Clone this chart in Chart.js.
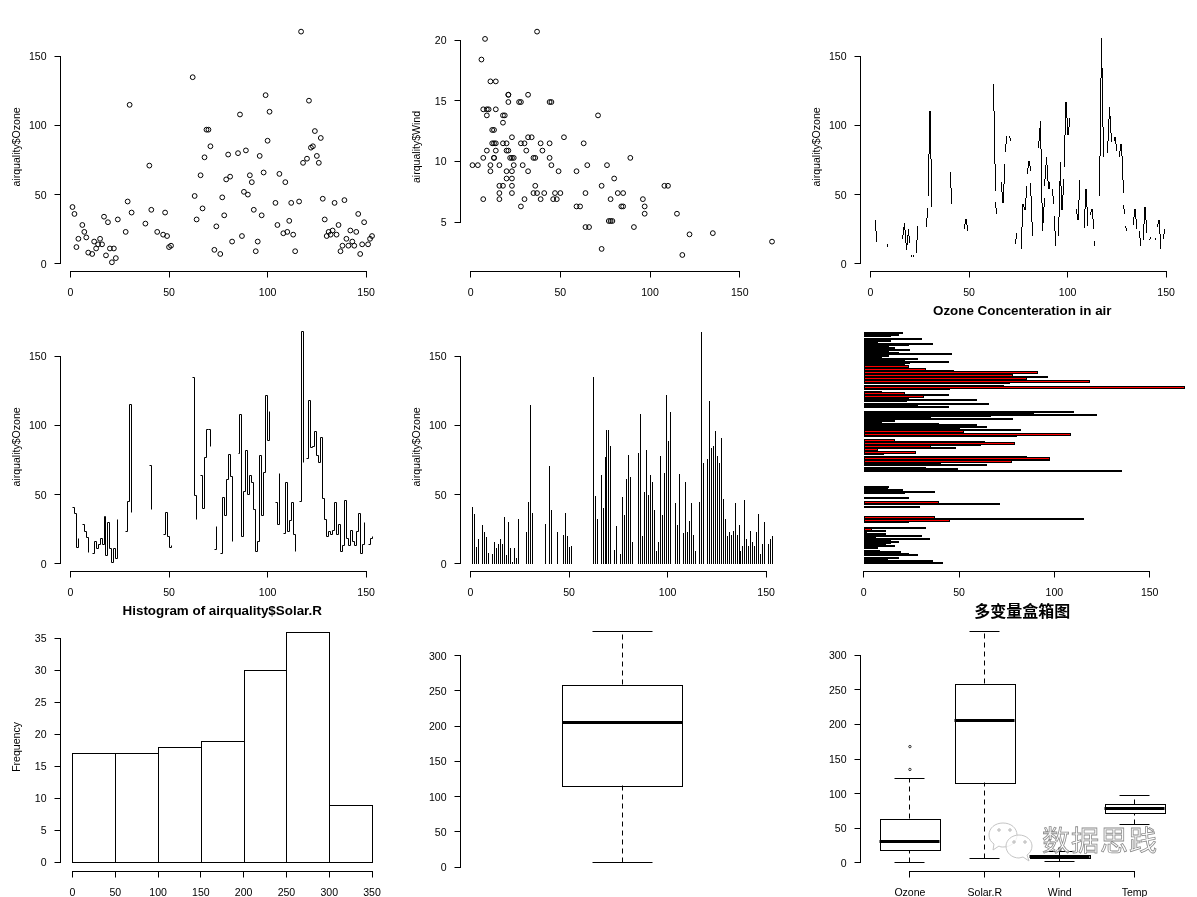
<!DOCTYPE html>
<html>
<head>
<meta charset="utf-8">
<title>airquality</title>
<script src="https://cdn.jsdelivr.net/npm/chart.js@4/dist/chart.umd.js"></script>
<style>
  html, body { margin: 0; padding: 0; background: #fff; overflow: hidden; }
  #page { position: relative; width: 1197px; height: 897px; overflow: hidden; }
  canvas { position: absolute; }
  #mark { position: absolute; left: 980px; top: 815px; }
</style>
</head>
<body>
<div id="page">
  <canvas id="c0"></canvas><canvas id="c1"></canvas><canvas id="c2"></canvas>
  <canvas id="c3"></canvas><canvas id="c4"></canvas><canvas id="c5"></canvas>
  <canvas id="c6"></canvas><canvas id="c7"></canvas><canvas id="c8"></canvas>
  <svg id="mark" width="190" height="55" viewBox="0 0 190 55">
    <g fill="rgba(255,255,255,0.75)" stroke="#c4c4c4" stroke-width="1">
      <path d="M23 8c8 0 14 5 14 12s-6 12-14 12c-1 0-3 0-4-1l-6 4 1-6c-3-2-5-5-5-9 0-7 6-12 14-12z"/>
      <path d="M39 20c7 0 13 5 13 11 0 4-2 7-5 9l2 6-6-4c-1 0-3 1-4 1-7 0-13-5-13-12 0-6 6-11 13-11z"/>
    </g>
    <g fill="none" stroke="#b0b0b0" stroke-width="1">
      <circle cx="19" cy="15" r="1.2"/><circle cx="30" cy="15" r="1.2"/>
      <circle cx="34" cy="27" r="1.2"/><circle cx="45" cy="27" r="1.2"/>
    </g>
    <text x="62" y="36" textLength="115" font-family="Noto Sans CJK SC" font-size="28"
          fill="rgba(255,255,255,0.72)" stroke="#8c8c8c" stroke-width="0.8">数据思践</text>
  </svg>
</div>
<script>
// airquality columns, NA is null
const ozone = [41,36,12,18,null,28,23,19,8,null,7,16,11,14,18,14,34,6,30,11,1,11,4,32,null,null,null,23,45,115,37,
  null,null,null,null,null,null,29,null,71,39,null,null,23,null,null,21,37,20,12,13,null,null,null,null,null,null,null,null,null,null,
  135,49,32,null,64,40,77,97,97,85,null,10,27,null,7,48,35,61,79,63,16,null,null,80,108,20,52,82,50,64,59,39,9,16,78,35,66,122,89,110,
  null,null,44,28,65,null,22,59,23,31,44,21,9,null,45,168,73,null,76,118,84,85,96,78,73,91,47,32,20,23,21,24,44,21,28,9,13,46,18,13,24,16,13,23,36,7,14,30,null,14,18,20];
const wind = [7.4,8,12.6,11.5,14.3,14.9,8.6,13.8,20.1,8.6,6.9,9.7,9.2,10.9,13.2,11.5,12,18.4,11.5,9.7,9.7,16.6,9.7,12,16.6,14.9,8,12,14.9,5.7,7.4,
  8.6,9.7,16.1,9.2,8.6,14.3,9.7,6.9,13.8,11.5,10.9,9.2,8,13.8,11.5,14.9,20.7,9.2,11.5,10.3,6.3,1.7,4.6,6.3,8,8,10.3,11.5,14.9,8,
  4.1,9.2,9.2,10.9,4.6,10.9,5.1,6.3,5.7,7.4,8.6,14.3,14.9,14.9,14.3,6.9,10.3,6.3,5.1,11.5,6.9,9.7,11.5,8.6,8,8.6,12,7.4,7.4,7.4,9.2,6.9,13.8,7.4,6.9,7.4,4.6,4,10.3,8,
  8.6,11.5,11.5,11.5,9.7,11.5,10.3,6.3,7.4,10.9,10.3,15.5,14.3,12.6,9.7,3.4,8,5.7,9.7,2.3,6.3,6.3,6.9,5.1,2.8,4.6,7.4,15.5,10.9,10.3,10.9,9.7,14.9,15.5,6.3,10.9,11.5,6.9,13.8,10.3,10.3,8,12.6,9.2,10.3,10.3,16.6,6.9,13.2,14.3,8,11.5];

const histCounts = [17,17,18,19,30,36,9];
const histMids = [25,75,125,175,225,275,325];
const histTicks = [0,50,100,150,200,250,300,350];
const freqTicks = [0,5,10,15,20,25,30,35];

const indexTicks = [0,50,100,150];
const ozoneTicks = [0,50,100,150];
const windTicks = [5,10,15,20];
const boxTicks = [0,50,100,150,200,250,300];

const boxNames = ['Ozone','Solar.R','Wind','Temp'];
const boxLow = [1,7,1.7,56];
const boxQ1 = [18,115.5,7.4,72];
const boxMedian = [31.5,205,9.7,79];
const boxQ3 = [63.5,258.5,11.5,85];
const boxHigh = [122,334,16.6,97];
const boxOutliers = [[135,168],[],[20.1,18.4,20.7],[]];

const LABEL_FONT = {family:'"Liberation Sans", Arial, sans-serif', size:10.56};
const AREA_LEFT = 60.5, AREA_RIGHT = 384, AREA_TOP = 22.4, AREA_BOTTOM = 271.5;
const CELL_W = 397, CELL_H = 297;
const TITLE_MID = 11;

// R style 4% padding of an axis range
function usr(lo, hi) {
  const d = (hi - lo) * 0.04;
  return {min: lo - d, max: hi + d};
}

function xyRows(xs, ys) {
  return ys.map((y, i) => ({x: xs ? xs[i] : i + 1, y: y}));
}

function axis(range, tickValues, opts) {
  opts = opts || {};
  const horizontal = opts.pos === 'x';
  const s = {
    type: 'linear',
    min: range.min,
    max: range.max,
    offset: false,
    display: opts.hidden ? false : true,
    border: {display: false},
    grid: {drawOnChartArea: false, tickLength: 6, color: '#000', lineWidth: 1, offset: false},
    ticks: {
      color: '#000', font: LABEL_FONT, autoSkip: false, maxRotation: 0, minRotation: 0,
      padding: horizontal ? 9 : 8,
      labelOffset: horizontal ? 0 : 1,
      callback: opts.names ? (v => opts.names[v - 1]) : (v => v)
    },
    afterBuildTicks: sc => { sc.ticks = tickValues.map(v => ({value: v})); },
    afterFit: sc => {
      // hidden scales get here too, so they still reserve the margin
      if (horizontal) sc.height = CELL_H - AREA_BOTTOM;
      else sc.width = AREA_LEFT;
    }
  };
  if (opts.title) {
    s.title = {display: true, text: opts.title, color: '#000', font: LABEL_FONT, padding: {top: 11, bottom: 0}};
  }
  return s;
}

// the reference comes from an aliased device, so bars are snapped to whole pixels
const crispBars = {
  id: 'crispBars',
  beforeDatasetDraw(chart, args) {
    if (args.meta.type !== 'bar') return;
    const ctx = chart.ctx;
    const horizontal = chart.options.indexAxis === 'y';
    ctx.save();
    args.meta.data.forEach(el => {
      const p = el.getProps(['x','y','base','width','height'], true);
      let l, r, t, b;
      if (horizontal) {
        l = Math.round(p.base); r = Math.round(p.x);
        t = Math.round(p.y - p.height / 2); b = Math.round(p.y + p.height / 2);
      } else {
        l = Math.round(p.x - p.width / 2); r = Math.round(p.x + p.width / 2);
        t = Math.round(Math.min(p.y, p.base)); b = Math.round(Math.max(p.y, p.base));
      }
      ctx.fillStyle = el.options.backgroundColor;
      ctx.fillRect(l, t, r - l + 1, b - t + 1);
      ctx.fillStyle = '#000';
      ctx.fillRect(l, t, r - l + 1, 1);
      ctx.fillRect(l, b, r - l + 1, 1);
      ctx.fillRect(l, t, 1, b - t + 1);
      ctx.fillRect(r, t, 1, b - t + 1);
    });
    ctx.restore();
    return false;
  }
};

// snap line vertices too, keeps stairs and box parts sharp
const crispLines = {
  id: 'crispLines',
  afterDatasetsUpdate(chart) {
    chart.getSortedVisibleDatasetMetas().forEach(meta => {
      if (!meta.dataset || !chart.data.datasets[meta.index].crisp) return;
      meta.data.forEach(el => {
        el.x = Math.round(el.x - 0.5) + 0.5;
        el.y = Math.round(el.y - 0.5) + 0.5;
      });
    });
  }
};

// type="c" of R: segments stop short of the points, short ones vanish
const gappedLine = {
  id: 'gappedLine',
  beforeDatasetDraw(chart, args) {
    const gap = chart.data.datasets[args.index].gap;
    if (!gap) return;
    const ctx = chart.ctx;
    const pts = args.meta.data;
    ctx.save();
    ctx.fillStyle = '#000';
    for (let i = 0; i < pts.length - 1; i++) {
      const a = pts[i], b = pts[i + 1];
      if (a.skip || b.skip) continue;
      const d = Math.hypot(b.x - a.x, b.y - a.y);
      if (d <= 2 * gap) continue;
      const ux = (b.x - a.x) / d, uy = (b.y - a.y) / d;
      plotPixels(ctx, a.x + ux * gap, a.y + uy * gap, b.x - ux * gap, b.y - uy * gap);
    }
    ctx.restore();
    return false;
  }
};

function plotPixels(ctx, x0, y0, x1, y1) {
  x0 = Math.round(x0); y0 = Math.round(y0); x1 = Math.round(x1); y1 = Math.round(y1);
  const steps = Math.max(Math.abs(x1 - x0), Math.abs(y1 - y0));
  for (let k = 0; k <= steps; k++) {
    const t = steps ? k / steps : 0;
    ctx.fillRect(Math.round(x0 + (x1 - x0) * t), Math.round(y0 + (y1 - y0) * t), 1, 1);
  }
}

// axis line only runs from first to last tick
const tickRangeAxes = {
  id: 'tickRangeAxes',
  afterDraw(chart) {
    const ctx = chart.ctx;
    ctx.save();
    ctx.fillStyle = '#000';
    Object.values(chart.scales).forEach(s => {
      if (!s.options.display || !s.ticks.length) return;
      const a = Math.round(s.getPixelForValue(s.ticks[0].value) - 0.5);
      const b = Math.round(s.getPixelForValue(s.ticks[s.ticks.length - 1].value) - 0.5);
      if (s.isHorizontal()) ctx.fillRect(a, Math.round(s.top - 0.5), b - a + 1, 1);
      else ctx.fillRect(Math.round(s.right - 0.5), b, 1, a - b + 1);
    });
    ctx.restore();
  }
};

function makeChart(idx, cfg) {
  const col = idx % 3, row = Math.floor(idx / 3);
  const canvas = document.getElementById('c' + idx);
  canvas.width = CELL_W; canvas.height = CELL_H;
  canvas.style.left = (col * 400) + 'px';
  canvas.style.top = (row * 300) + 'px';
  const title = cfg.title;
  const titleSize = cfg.titleSize || 13.4;
  const titleTop = TITLE_MID - titleSize * 0.6;
  const padding = {
    left: 0,
    right: CELL_W - AREA_RIGHT,
    top: title ? titleTop : AREA_TOP,
    bottom: 0
  };
  return new Chart(canvas, {
    type: cfg.type,
    data: {datasets: cfg.datasets},
    plugins: [crispBars, crispLines, gappedLine, tickRangeAxes],
    options: {
      responsive: false,
      animation: false,
      events: [],
      indexAxis: cfg.indexAxis || 'x',
      layout: {padding: padding},
      scales: cfg.scales,
      plugins: {
        legend: {display: false},
        tooltip: {enabled: false},
        title: title ? {
          display: true, text: title, color: '#000', fullSize: false,
          font: {family: cfg.titleFamily || LABEL_FONT.family, size: titleSize, weight: 'bold', lineHeight: 1.2},
          padding: {top: 0, bottom: AREA_TOP - titleTop - titleSize * 1.2}
        } : {display: false}
      }
    }
  });
}

// box parts as datasets: floating bar for the box, lines for the rest
function boxDatasets(from, count, halfBox) {
  const whiskers = [], caps = [], medians = [], outliers = [], boxes = [];
  for (let n = 0; n < count; n++) {
    const i = from + n, x = n + 1;
    whiskers.push({x: x, y: boxLow[i]}, {x: x, y: boxQ1[i]}, {x: x, y: null},
                  {x: x, y: boxQ3[i]}, {x: x, y: boxHigh[i]}, {x: x, y: null});
    caps.push({x: x - halfBox / 2, y: boxLow[i]}, {x: x + halfBox / 2, y: boxLow[i]}, {x: x, y: null},
              {x: x - halfBox / 2, y: boxHigh[i]}, {x: x + halfBox / 2, y: boxHigh[i]}, {x: x, y: null});
    medians.push({x: x - halfBox, y: boxMedian[i]}, {x: x + halfBox, y: boxMedian[i]}, {x: x, y: null});
    boxOutliers[i].forEach(v => outliers.push({x: x, y: v}));
    boxes.push({x: x, y: [boxQ1[i], boxQ3[i]]});
  }
  const line = {type: 'scatter', showLine: true, pointRadius: 0, borderColor: '#000', borderWidth: 1, spanGaps: false, crisp: true};
  return [
    Object.assign({}, line, {data: medians, borderWidth: 3, borderCapStyle: 'butt'}),
    Object.assign({}, line, {data: caps}),
    Object.assign({}, line, {data: whiskers, borderDash: [5, 4]}),
    {type: 'scatter', data: outliers, pointRadius: 1.2, borderColor: '#000', borderWidth: 0.8, backgroundColor: 'transparent'},
    {
      type: 'bar',
      data: boxes,
      backgroundColor: 'rgba(0,0,0,0)',
      categoryPercentage: 1,
      barPercentage: count === 1 ? 0.4 / 1.08 : 0.8
    }
  ];
}

const points = {pointRadius: 2.4, pointBorderColor: '#000', pointBorderWidth: 1, pointBackgroundColor: 'transparent'};
const indexRange = usr(1, 153);
const ozoneRange = usr(1, 168);

// 1: index vs ozone points
makeChart(0, {
  type: 'scatter',
  datasets: [Object.assign({data: xyRows(null, ozone).filter(d => d.y !== null)}, points)],
  scales: {x: axis(indexRange, indexTicks, {pos: 'x'}), y: axis(ozoneRange, ozoneTicks, {title: 'airquality$Ozone'})}
});

// 2: ozone vs wind points
makeChart(1, {
  type: 'scatter',
  datasets: [Object.assign({data: xyRows(ozone, wind).filter(d => d.x !== null)}, points)],
  scales: {x: axis(ozoneRange, ozoneTicks, {pos: 'x'}), y: axis(usr(1.7, 20.7), windTicks, {title: 'airquality$Wind'})}
});

// 3: line with gaps around the points
makeChart(2, {
  type: 'scatter',
  datasets: [{data: xyRows(null, ozone), showLine: true, spanGaps: false, pointRadius: 0, borderColor: '#000', borderWidth: 1, gap: 6.4}],
  scales: {x: axis(indexRange, indexTicks, {pos: 'x'}), y: axis(ozoneRange, ozoneTicks, {title: 'airquality$Ozone'})}
});

// 4: stairs
makeChart(3, {
  type: 'scatter',
  datasets: [{data: xyRows(null, ozone), showLine: true, stepped: 'before', spanGaps: false, pointRadius: 0, borderColor: '#000', borderWidth: 1, crisp: true}],
  scales: {x: axis(indexRange, indexTicks, {pos: 'x'}), y: axis(ozoneRange, ozoneTicks, {title: 'airquality$Ozone'})}
});

// 5: vertical lines from zero
makeChart(4, {
  type: 'bar',
  datasets: [{data: xyRows(null, ozone).filter(d => d.y !== null), backgroundColor: '#000', barThickness: 0.01}],
  scales: {x: axis(indexRange, indexTicks, {pos: 'x'}), y: axis(ozoneRange, ozoneTicks, {title: 'airquality$Ozone'})}
});

// 6: horizontal barplot, red fill only survives where a bar rounds to 3 rows
makeChart(5, {
  type: 'bar',
  indexAxis: 'y',
  title: 'Ozone Concenteration in air',
  datasets: [{
    data: ozone.map((v, i) => ({x: v, y: i + 1})).filter(d => d.x !== null),
    backgroundColor: '#f00',
    categoryPercentage: 1,
    barPercentage: 1 / 1.2
  }],
  scales: {
    x: axis({min: -1.68, max: 168}, ozoneTicks, {pos: 'x'}),
    y: axis({min: -5.035, max: 159.775}, [], {hidden: true})
  }
});

// 7: histogram
makeChart(6, {
  type: 'bar',
  title: 'Histogram of airquality$Solar.R',
  datasets: [{
    data: xyRows(histMids, histCounts),
    backgroundColor: '#fff',
    categoryPercentage: 1,
    barPercentage: 1
  }],
  scales: {x: axis(usr(0, 350), histTicks, {pos: 'x'}), y: axis(usr(0, 36), freqTicks, {title: 'Frequency'})}
});

// 8: single box of Solar.R
makeChart(7, {
  type: 'bar',
  datasets: boxDatasets(1, 1, 0.2),
  scales: {x: axis(usr(0.5, 1.5), [], {pos: 'x', hidden: true}), y: axis(usr(7, 334), boxTicks)}
});

// 9: all four boxes
makeChart(8, {
  type: 'bar',
  title: '多变量盒箱图',
  titleFamily: '"Noto Sans CJK SC"',
  titleSize: 16,
  datasets: boxDatasets(0, 4, 0.4),
  scales: {x: axis(usr(0.5, 4.5), [1,2,3,4], {pos: 'x', names: boxNames}), y: axis(usr(1, 334), boxTicks)}
});
</script>
</body>
</html>
